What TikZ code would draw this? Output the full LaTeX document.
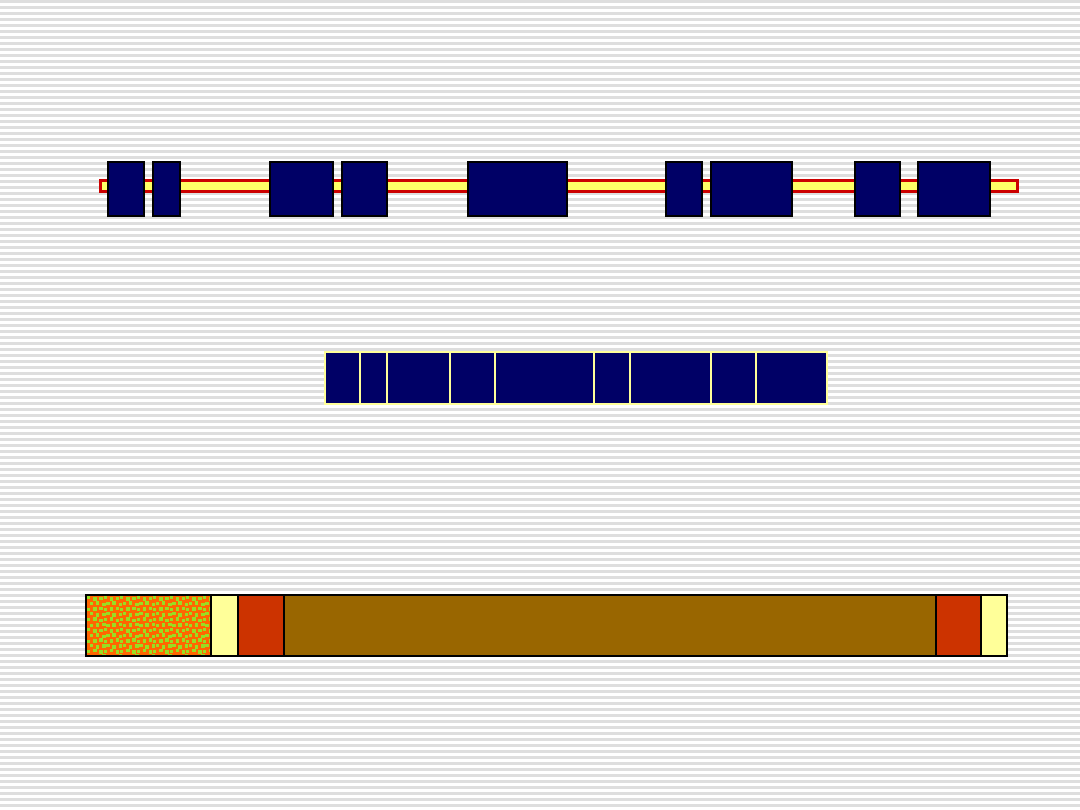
\documentclass[tikz,border=0pt]{standalone}
\definecolor{navyblue}{HTML}{000066}
\definecolor{baryellow}{HTML}{FFFF66}
\definecolor{barred}{HTML}{CC0000}
\definecolor{paleyellow}{HTML}{FFFF99}
\definecolor{utrorange}{HTML}{FF6600}
\definecolor{dotgreen}{HTML}{99DD22}
\definecolor{sigred}{HTML}{CC3300}
\definecolor{chainbrown}{HTML}{996600}
\definecolor{stripegray}{HTML}{DEDEDE}
\tikzset{
  exon/.style={fill=navyblue, draw=black, line width=2pt},
  segment/.style={draw=black, line width=2pt},
}
\begin{document}
\begin{tikzpicture}[x=1pt, y=-1pt, line join=miter]
	\useasboundingbox (0,0) rectangle (1080,810);
	% background
	\fill[white] (0,0) rectangle (1080,810);
	\foreach \k in {0,...,134}
		\fill[stripegray] (0,6*\k) rectangle (1080,6*\k+3);
	% gene with exons
	\filldraw[fill=baryellow, draw=barred, line width=3pt] (100.5,181) rectangle (1017.5,192);
	\foreach \a/\b in {108/144, 153/180, 270/333, 342/387, 468/567, 666/702, 711/792, 855/900, 918/990}
		\filldraw[exon] (\a,162) rectangle (\b,216);
	% spliced mRNA
	\fill[navyblue] (325,352) rectangle (827,404);
	\foreach \s in {360,387,450,495,594,630,711,756}
		\draw[paleyellow, line width=2pt] (\s,352) -- (\s,404);
	\draw[paleyellow, line width=2pt] (325,352) rectangle (827,404);
	% protein
	\fill[utrorange] (86,595) rectangle (211,656);
	\begin{scope}
		\clip (86,595) rectangle (211,656);
		\foreach \i in {0,...,22}
			\foreach \j in {0,...,11} {
				\pgfmathsetmacro{\dx}{mod(\j,2)*2.7+mod(\i*7+\j*3,3)*0.7}
				\pgfmathsetmacro{\dy}{mod(\i*5+\j,3)*0.7}
				\fill[dotgreen] (87+5.5*\i+\dx,596+5.3*\j+\dy) rectangle ++(3.4,3.4);
			}
	\end{scope}
	\fill[paleyellow] (211,595) rectangle (238,656);
	\fill[sigred] (238,595) rectangle (284,656);
	\fill[chainbrown] (284,595) rectangle (936,656);
	\fill[sigred] (936,595) rectangle (981,656);
	\fill[paleyellow] (981,595) rectangle (1007,656);
	\foreach \s in {211,238,284,936,981}
		\draw[black, line width=1.5pt] (\s,595) -- (\s,656);
	\draw[segment] (86,595) rectangle (1007,656);
\end{tikzpicture}
\end{document}
